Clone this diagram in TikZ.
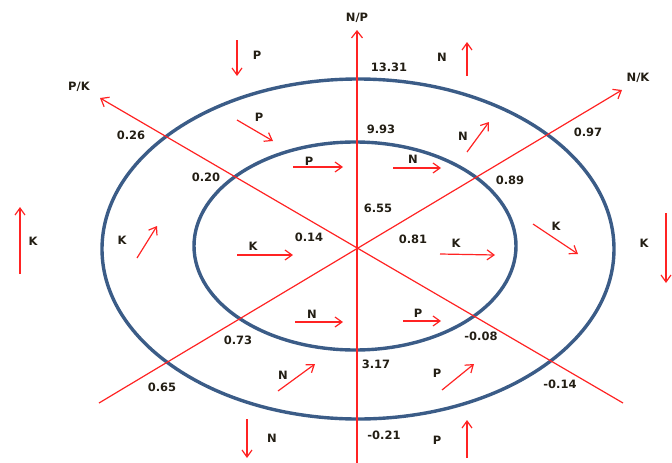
\documentclass[tikz,border=0pt]{standalone}
\usepackage{fontspec}
\setmainfont{DejaVu Sans}
\usetikzlibrary{arrows.meta}
\definecolor{ringcol}{RGB}{59,92,135}
\definecolor{arrcol}{RGB}{255,35,35}
\definecolor{txtcol}{RGB}{35,30,20}

\begin{document}
\begin{tikzpicture}[x=1pt, y=-1pt,
  font=\fontsize{11.5}{13}\selectfont\bfseries,
  ring/.style={draw=ringcol, line width=3.4pt},
  axis/.style={-{Straight Barb[length=7pt,width=11pt]}, arrcol, line width=1.2pt},
  arr/.style={-{Straight Barb[length=7pt,width=10pt]}, arrcol, line width=1.2pt},
  lbl/.style={text=txtcol, inner sep=1pt},
  val/.style={text=txtcol, inner sep=1pt}
]
  \useasboundingbox (0,0) rectangle (672,463);

  % the two rings
  \draw[ring] (358,249) ellipse [x radius=256, y radius=170];
  \draw[ring] (355,246) ellipse [x radius=161, y radius=104];

  % axes through the centre
  \coordinate (o) at (357,248);
  \coordinate (npTip) at (357,30);
  \coordinate (npEnd) at (357,463);
  \coordinate (pkTip) at (100,98);
  \coordinate (pkEnd) at (623,403);
  \coordinate (nkTip) at (622,90);
  \coordinate (nkEnd) at (99,403);
  \draw[axis] (npEnd) -- (npTip);
  \draw[axis] (pkEnd) -- (pkTip);
  \draw[axis] (nkEnd) -- (nkTip);

  \node[lbl] (np) at (357,18) {N/P};
  \node[lbl] (pk) at (79,87) {P/K};
  \node[lbl] (nk) at (638,78) {N/K};

  % values along the axes
  \node[val] (v1331) at (389,67) {13.31};
  \node[val] (v993) at (381,129) {9.93};
  \node[val] (v655) at (378,208) {6.55};
  \node[val] (v317) at (376,364) {3.17};
  \node[val] (v021) at (384,435) {-0.21};
  \node[val] (v097) at (588,132) {0.97};
  \node[val] (v089) at (510,180) {0.89};
  \node[val] (v081) at (413,239) {0.81};
  \node[val] (v073) at (238,340) {0.73};
  \node[val] (v065) at (162,387) {0.65};
  \node[val] (v026) at (131,135) {0.26};
  \node[val] (v020) at (206,177) {0.20};
  \node[val] (v014) at (309,237) {0.14};
  \node[val] (v008) at (481,336) {-0.08};
  \node[val] (v014b) at (560,384) {-0.14};

  % small arrows with their nutrient
  \draw[arr] (237,40) -- (237,76);
  \node[lbl] (p1) at (257,55) {P};
  \draw[arr] (237,120) -- (273,141);
  \node[lbl] (p2) at (259,117) {P};
  \draw[arr] (293,167) -- (343,167);
  \node[lbl] (p3) at (309,161) {P};
  \draw[arr] (393,168) -- (441,168);
  \node[lbl] (n1) at (413,159) {N};
  \draw[arr] (467,152) -- (489,122);
  \node[lbl] (n2) at (463,136) {N};
  \draw[arr] (467,76) -- (467,42);
  \node[lbl] (n3) at (442,57) {N};

  \draw[arr] (533,224) -- (578,254);
  \node[lbl] (k1) at (556,226) {K};
  \draw[arr] (666,213) -- (666,283);
  \node[lbl] (k2) at (644,243) {K};
  \draw[arr] (440,254) -- (495,255);
  \node[lbl] (k3) at (456,243) {K};
  \draw[arr] (237,255) -- (293,255);
  \node[lbl] (k4) at (253,246) {K};
  \draw[arr] (137,258) -- (157,226);
  \node[lbl] (k5) at (122,240) {K};
  \draw[arr] (20,274) -- (20,207);
  \node[lbl] (k6) at (33,241) {K};

  \draw[arr] (295,322) -- (343,322);
  \node[lbl] (n4) at (312,314) {N};
  \draw[arr] (403,321) -- (441,321);
  \node[lbl] (p4) at (418,313) {P};
  \draw[arr] (278,391) -- (315,364);
  \node[lbl] (n5) at (283,375) {N};
  \draw[arr] (442,390) -- (474,364);
  \node[lbl] (p5) at (437,373) {P};
  \draw[arr] (247,419) -- (247,458);
  \node[lbl] (n6) at (272,438) {N};
  \draw[arr] (467,458) -- (467,420);
  \node[lbl] (p6) at (437,440) {P};
\end{tikzpicture}
\end{document}
